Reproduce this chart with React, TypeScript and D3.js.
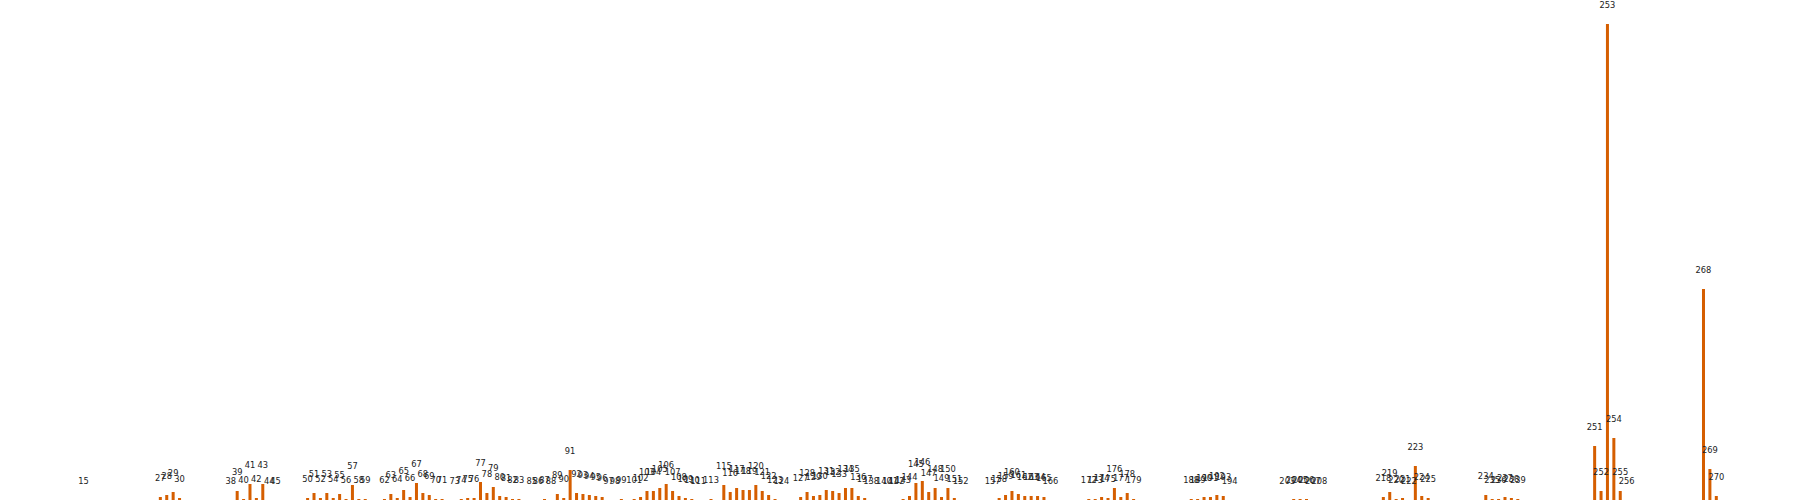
import React from "react";
import * as d3 from "d3";

// bar positions (index) and heights
const positions = [
  15,
  27, 28, 29, 30,
  38, 39, 40, 41, 42, 43, 44, 45,
  50, 51, 52, 53, 54, 55, 56, 57, 58, 59,
  62, 63, 64, 65, 66, 67, 68, 69, 70, 71,
  73, 74, 75, 76, 77, 78, 79, 80, 81, 82, 83,
  85, 86, 87, 88, 89, 90, 91, 92, 93, 94, 95, 96, 97, 98, 99,
  101, 102, 103, 104, 105, 106, 107, 108, 109, 110, 111,
  113,
  115, 116, 117, 118, 119, 120, 121, 122, 123, 124,
  127, 128, 129, 130, 131, 132, 133, 134, 135, 136, 137, 138,
  140, 141, 142, 143, 144, 145, 146, 147, 148, 149, 150, 151, 152,
  157, 158, 159, 160, 161, 162, 163, 164, 165, 166,
  172, 173, 174, 175, 176, 177, 178, 179,
  188, 189, 190, 191, 192, 193, 194,
  203, 204, 205, 206, 207, 208,
  218, 219, 220, 221, 222, 223, 224, 225,
  234, 235, 236, 237, 238, 239,
  251, 252, 253, 254, 255, 256,
  268, 269, 270,
];

const counts = [
  0,
  3, 5, 8, 2,
  0, 9, 1, 16, 2, 16, 0, 0,
  2, 7, 2, 7, 2, 6, 1, 15, 1, 1,
  1, 6, 2, 10, 3, 17, 7, 5, 1, 1,
  0, 1, 2, 2, 18, 7, 13, 4, 3, 1, 1,
  0, 0, 1, 0, 6, 2, 30, 7, 6, 5, 4, 3, 0, 0, 1,
  1, 3, 9, 9, 12, 16, 9, 4, 2, 1, 0,
  1,
  15, 8, 12, 10, 10, 15, 9, 5, 1, 0,
  3, 8, 4, 5, 10, 9, 7, 12, 12, 4, 2, 0,
  0, 0, 0, 1, 4, 17, 19, 8, 12, 3, 12, 2, 0,
  0, 2, 5, 9, 6, 4, 4, 4, 3, 0,
  1, 1, 3, 2, 12, 3, 7, 1,
  1, 1, 3, 3, 5, 4, 0,
  0, 1, 1, 1, 0, 0,
  3, 8, 1, 2, 0, 34, 4, 2,
  5, 1, 1, 3, 2, 1,
  54, 9, 476, 62, 9, 0,
  211, 31, 4,
];

const data = positions.map((p, i) => ({ pos: p, value: counts[i] }));

export default function App() {
  const width = 1800;
  const height = 500;
  const barWidth = 3;

  const x = d3.scaleLinear().domain([15, 270]).range([83.5, 1716.3]);
  const y = d3.scaleLinear().domain([0, 476]).range([height, 24]);

  return (
    <svg
      width={width}
      height={height}
      style={{ position: "absolute", left: 0, top: 0, background: "#fff" }}
    >
      <g>
        {data.map((d) => (
          <rect
            key={"b" + d.pos}
            x={x(d.pos) - barWidth / 2}
            y={y(d.value)}
            width={barWidth}
            height={height - y(d.value)}
            fill="#d55e00"
          />
        ))}
      </g>
      <g fontFamily="DejaVu Sans" fontSize={8.3} fill="#222" textAnchor="middle">
        {data.map((d) => (
          <text key={"t" + d.pos} x={x(d.pos)} y={y(d.value) - 16.3}>
            {d.pos}
          </text>
        ))}
      </g>
    </svg>
  );
}
